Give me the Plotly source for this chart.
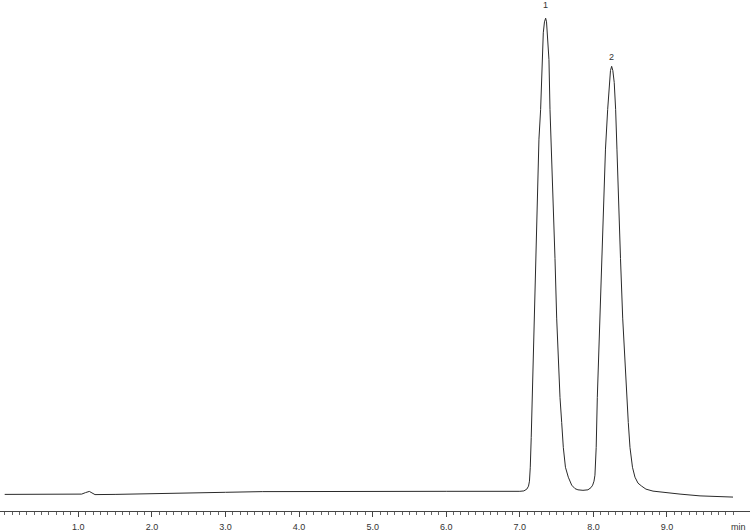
import plotly.graph_objects as go

# retention time (min) and detector signal (arbitrary units)
time_min = [0.00, 0.50, 1.00, 1.046, 1.098, 1.15, 1.186, 1.227, 1.50, 2.00, 2.50, 3.00, 3.50,
            4.00, 5.00, 6.00, 7.00, 7.055, 7.095, 7.118, 7.131, 7.142, 7.155, 7.169, 7.183,
            7.197, 7.217, 7.237, 7.26, 7.283, 7.305, 7.319, 7.335, 7.351, 7.363, 7.373, 7.396,
            7.41, 7.43, 7.455, 7.478, 7.501, 7.523, 7.546, 7.569, 7.591, 7.62, 7.659, 7.705,
            7.75, 7.79, 7.858, 7.926, 7.967, 7.99, 8.008, 8.021, 8.038, 8.053, 8.07, 8.09,
            8.111, 8.134, 8.164, 8.194, 8.216, 8.232, 8.248, 8.264, 8.283, 8.302, 8.32, 8.338,
            8.368, 8.398, 8.425, 8.452, 8.474, 8.497, 8.531, 8.565, 8.606, 8.656, 8.714, 8.81,
            8.97, 9.177, 9.449, 9.72, 9.897]
signal = [2.7, 2.7, 2.8, 3.0, 4.5, 5.7, 4.2, 2.5, 2.7, 3.2, 4.0, 4.8, 5.5,
          5.7, 5.8, 5.8, 5.8, 6.2, 8, 11, 16, 30, 60, 100, 140,
          180, 240, 300, 360, 390, 440, 467, 478, 481.7, 478, 467, 440,
          390, 350, 300, 240, 180, 140, 100, 75, 50, 30, 20, 12,
          8.5, 7.3, 6.8, 7.3, 9.5, 12, 16, 22, 50, 100, 140, 180,
          240, 300, 350, 390, 417, 429, 433.3, 429, 417, 390, 350, 300,
          240, 180, 140, 100, 75, 50, 30, 20, 14, 11, 8, 6,
          4.5, 3, 1.2, 0.4, 0]

peak_labels = ["1", "2"]
peak_times = [7.35, 8.248]
peak_label_y = [495, 443]

major_ticks = [1, 2, 3, 4, 5, 6, 7, 8, 9]
major_text = ["1.0", "2.0", "3.0", "4.0", "5.0", "6.0", "7.0", "8.0", "9.0"]
minor_ticks = [round(i * 0.1, 1) for i in range(100) if i % 10 != 0 or i == 0]

fig = go.Figure()
fig.add_trace(go.Scatter(x=time_min, y=signal, mode='lines',
                         line=dict(color='#2a2a2a', width=1),
                         hoverinfo='skip', showlegend=False))

for lab, t, h in zip(peak_labels, peak_times, peak_label_y):
    fig.add_annotation(x=t, y=h, text=lab, showarrow=False, yanchor='middle',
                       font=dict(size=9, color='#333'))

fig.add_annotation(x=9.97, xref='x', y=0, yref='paper', text='min', showarrow=False,
                   yanchor='top', yshift=-9, font=dict(size=9, color='#333'))

fig.update_layout(
    width=750, height=532,
    margin=dict(l=0, r=0, t=0, b=18),
    plot_bgcolor='white', paper_bgcolor='white',
    font=dict(family='Liberation Sans, Arial, sans-serif', size=9, color='#333'),
    xaxis=dict(range=[-0.0639, 10.128], showgrid=False, zeroline=False,
               showline=True, linecolor='#444', linewidth=1,
               tickmode='array', tickvals=major_ticks, ticktext=major_text,
               ticks='outside', ticklen=5, tickwidth=1, tickcolor='#444',
               ticklabelstandoff=2,
               minor=dict(tickmode='array', tickvals=minor_ticks, ticks='outside',
                          ticklen=3, tickwidth=1, tickcolor='#666', showgrid=False)),
    yaxis=dict(range=[-14, 500], visible=False),
)

# page body has a default 8px margin, drop it so the figure sits at the corner
fig.write_html("out.html", config={'displayModeBar': False},
               post_script="document.body.style.margin='0';")
